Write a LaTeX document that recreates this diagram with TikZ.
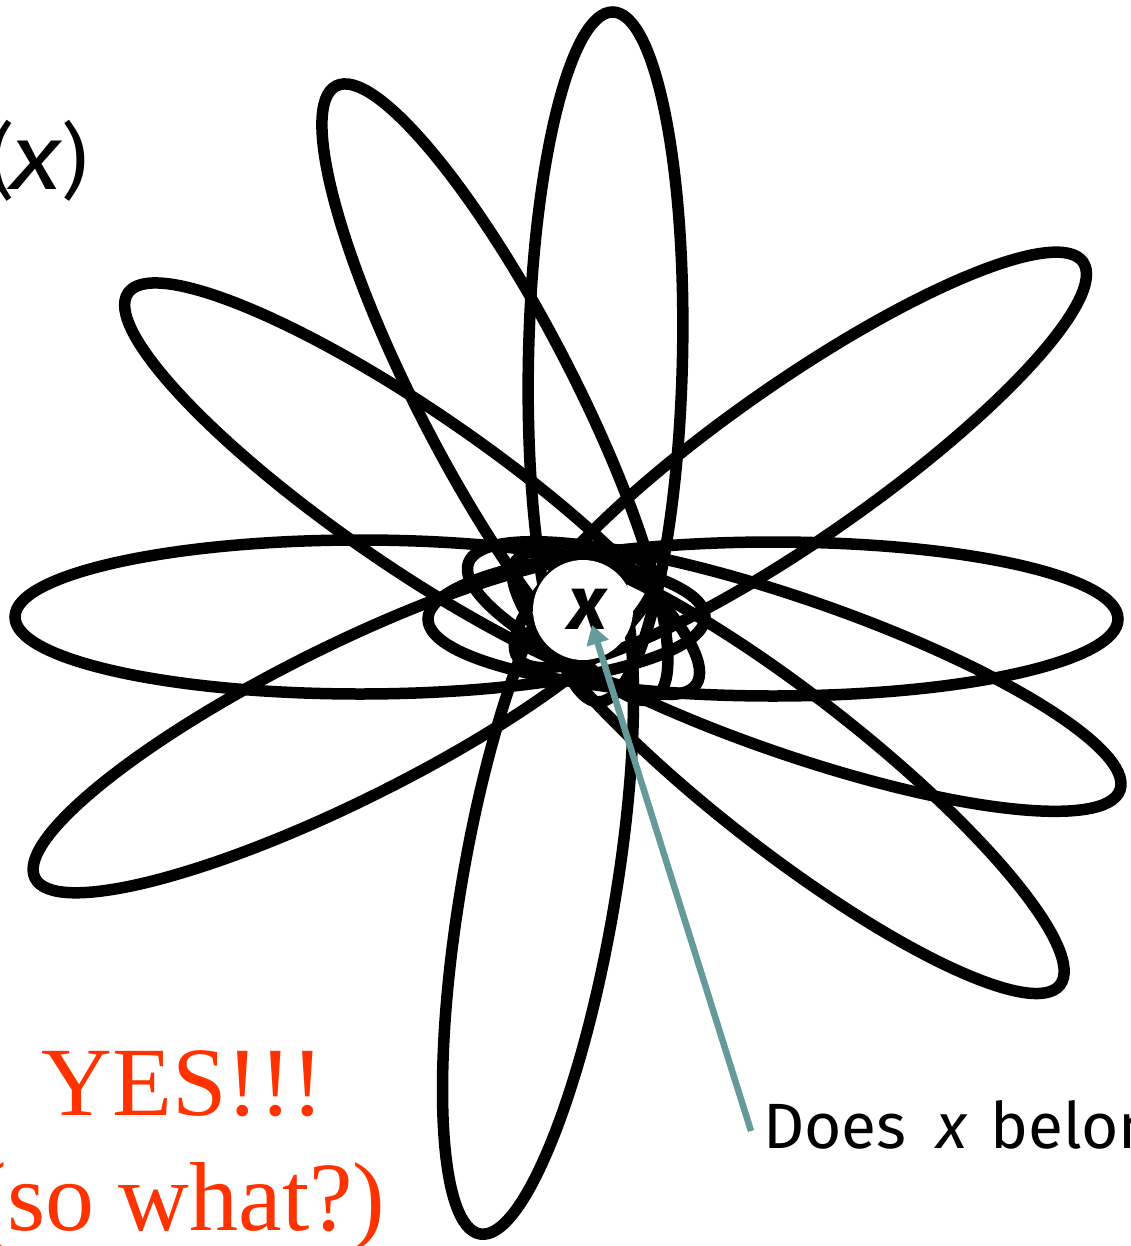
\documentclass[tikz,border=0pt]{standalone}
\usepackage{fontspec}
\usepackage{graphicx}
\setmainfont{Liberation Serif}
\newfontfamily\handfont{Fira Sans}
\usetikzlibrary{arrows.meta}
\definecolor{yesred}{RGB}{255,51,0}
\definecolor{arrowteal}{RGB}{102,153,153}
\tikzset{
  petal/.style={draw=black, line width=11.5pt},
  pointer/.style={draw=arrowteal, line width=6.5pt, -{Triangle[length=19pt,width=22pt]}},
  hand/.style={inner sep=0pt, outer sep=0pt, font=\handfont\fontsize{64}{76}\selectfont},
  shout/.style={inner sep=0pt, text=yesred, font=\fontsize{98}{115}\selectfont},
}
\newcommand{\drawpetal}[3]{\draw[petal, rotate around={#3:(#1,#2)}] (#1,#2) ellipse [x radius=345pt, y radius=77pt];}
\begin{document}
\begin{tikzpicture}[x=1pt,y=-1pt]
\useasboundingbox (0,0) rectangle (1131,1246);
\clip (0,0) rectangle (1131,1246);
% petals
\drawpetal{605.5}{356.9}{-91.24}
\drawpetal{494.9}{392.2}{-62.58}
\drawpetal{412.1}{488.7}{-34.56}
\drawpetal{360}{617}{0}
\drawpetal{343.8}{724.2}{26.48}
\drawpetal{538}{893.9}{80.33}
\drawpetal{788.2}{772.5}{141.98}
\drawpetal{794.2}{676.5}{160.79}
\drawpetal{773}{619}{0}
\drawpetal{800.4}{459.9}{35}
% centre hole
\node[circle, fill=white, minimum size=100pt, inner sep=0pt] (hole) at (583,610) {};
\node[hand, font=\handfont\bfseries\itshape\fontsize{76}{84}\selectfont] (xin) at (588,609) {x};
% labels
\node[hand, anchor=base west] (question) at (763,1148) {Does\hspace{0.2em} {\itshape x}\hspace{0.1em} belong};
\node[hand, anchor=base east] (fx) at (88,190) {{\fontsize{82}{90}\selectfont(}\hspace{-4pt}\scalebox{1.15}[1.0]{\fontsize{92}{100}\selectfont\itshape x}{\fontsize{82}{90}\selectfont)}};
\node[shout, anchor=base] (yes) at (183,1115) {YES!!!};
\node[shout, anchor=base] (sowhat) at (180,1230) {(so what?)};
% pointer
\coordinate (qstart) at (751,1131);
\coordinate (xtip) at (592,625);
\draw[pointer] (qstart) -- (xtip);
\end{tikzpicture}
\end{document}
